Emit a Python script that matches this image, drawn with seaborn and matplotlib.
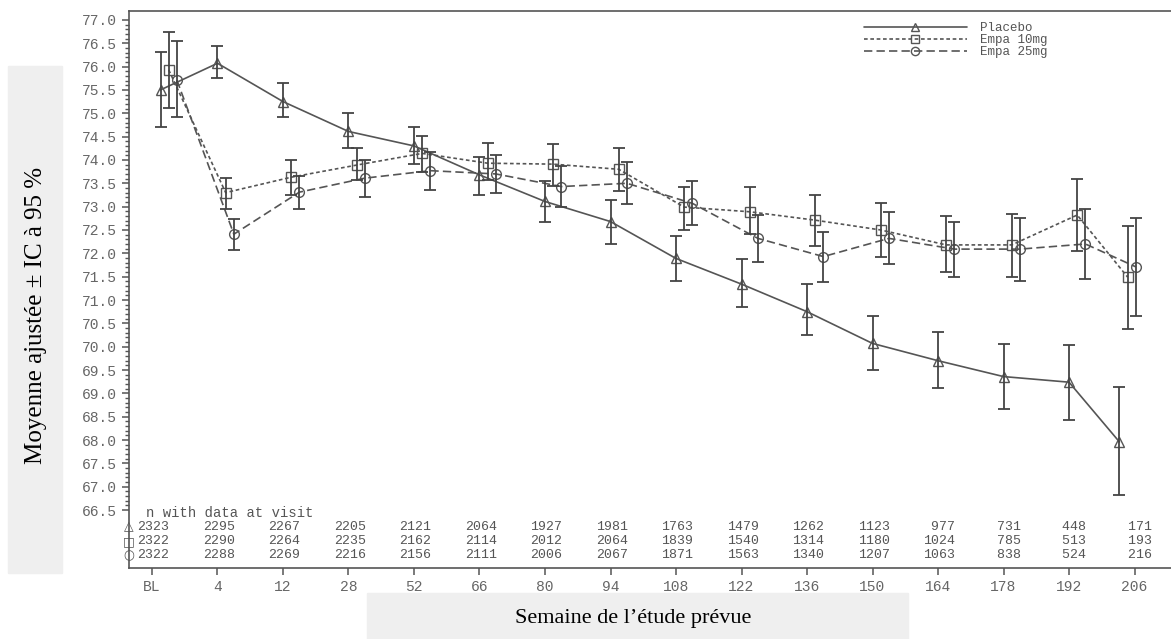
import numpy as np
import pandas as pd
import matplotlib
matplotlib.use("Agg")
import matplotlib.pyplot as plt
import seaborn as sns
from matplotlib.patches import Rectangle
from matplotlib.ticker import FixedLocator

sns.set_theme(style="ticks")
plt.rcParams["font.family"] = ["Liberation Mono", "DejaVu Sans"]

visits = ["BL", "4", "12", "28", "52", "66", "80", "94", "108", "122", "136",
          "150", "164", "178", "192", "206"]
groups = ["Placebo", "Empa 10mg", "Empa 25mg"]

placebo_mean = [75.50, 76.07, 75.25, 74.61, 74.30, 73.68, 73.11, 72.68, 71.89, 71.34,
                70.75, 70.07, 69.70, 69.36, 69.24, 67.96]
placebo_lo = [74.71, 75.76, 74.91, 74.25, 73.91, 73.24, 72.67, 72.21, 71.41, 70.84,
              70.24, 69.50, 69.11, 68.66, 68.44, 66.82]
placebo_hi = [76.31, 76.44, 75.64, 75.01, 74.70, 74.07, 73.55, 73.14, 72.38, 71.88,
              71.34, 70.66, 70.32, 70.06, 70.04, 69.14]

empa10_mean = [75.93, 73.30, 73.63, 73.89, 74.14, 73.93, 73.91, 73.80, 72.99, 72.89,
               72.71, 72.50, 72.18, 72.18, 72.82, 71.49]
empa10_lo = [75.12, 72.95, 73.25, 73.57, 73.75, 73.57, 73.45, 73.34, 72.50, 72.41,
             72.16, 71.93, 71.59, 71.49, 72.06, 70.38]
empa10_hi = [76.74, 73.62, 74.00, 74.26, 74.52, 74.36, 74.34, 74.25, 73.43, 73.41,
             73.24, 73.07, 72.80, 72.84, 73.59, 72.59]

empa25_mean = [75.71, 72.41, 73.31, 73.61, 73.77, 73.70, 73.43, 73.50, 73.07, 72.32,
               71.93, 72.32, 72.09, 72.09, 72.20, 71.71]
empa25_lo = [74.91, 72.07, 72.95, 73.21, 73.36, 73.29, 73.00, 73.05, 72.61, 71.81,
             71.39, 71.77, 71.49, 71.41, 71.44, 70.66]
empa25_hi = [76.54, 72.73, 73.66, 73.99, 74.16, 74.11, 73.88, 73.95, 73.55, 72.81,
             72.45, 72.88, 72.68, 72.76, 72.94, 72.75]

n_placebo = [2323, 2295, 2267, 2205, 2121, 2064, 1927, 1981, 1763, 1479, 1262, 1123,
             977, 731, 448, 171]
n_empa10 = [2322, 2290, 2264, 2235, 2162, 2114, 2012, 2064, 1839, 1540, 1314, 1180,
            1024, 785, 513, 193]
n_empa25 = [2322, 2288, 2269, 2216, 2156, 2111, 2006, 2067, 1871, 1563, 1340, 1207,
            1063, 838, 524, 216]

# dodge per group and small shift of the first/last visit (as in the SAS output)
dodge = [0.0, 0.125, 0.25]
shift = [0.13] + [0.0] * 14 + [-0.23]

means = [placebo_mean, empa10_mean, empa25_mean]
los = [placebo_lo, empa10_lo, empa25_lo]
his = [placebo_hi, empa10_hi, empa25_hi]

rows = []
for g, name in enumerate(groups):
    for i in range(len(visits)):
        rows.append({"group": name, "pos": i + dodge[g] + shift[i],
                     "mean": means[g][i], "lo": los[g][i], "hi": his[g][i]})
df = pd.DataFrame(rows)

gray = "#555555"
fig = plt.figure(figsize=(11.71, 6.39), dpi=100)
ax = fig.add_axes([129 / 1171, 71 / 639, 1042 / 1171, 557 / 639])

sns.lineplot(data=df, x="pos", y="mean", hue="group", style="group", sort=False,
             palette={g: gray for g in groups},
             dashes={"Placebo": "", "Empa 10mg": (2.2, 1.6), "Empa 25mg": (5, 2.5)},
             markers={"Placebo": "^", "Empa 10mg": "s", "Empa 25mg": "o"},
             markersize=7, mfc="none", mec=gray, mew=1.0, lw=1.2,
             errorbar=None, legend=False, ax=ax)

for name in groups:
    d = df[df["group"] == name]
    ax.errorbar(d["pos"], d["mean"], yerr=[d["mean"] - d["lo"], d["hi"] - d["mean"]],
                fmt="none", ecolor="#444444", elinewidth=1.3, capsize=4, capthick=1.3)

ax.legend(handles=ax.lines[:3], labels=groups, loc="upper left",
          bbox_to_anchor=(0.705, 0.98), frameon=False, fontsize=9,
          handlelength=8.3, handletextpad=1.0, labelspacing=0.0,
          borderpad=0, borderaxespad=0, labelcolor="#555555", markerscale=0.85)

ax.set_xlim(-0.351, 15.557)
ax.set_ylim(65.26, 77.19)
ax.set_xticks(range(len(visits)))
ax.set_xticklabels(visits)
ax.yaxis.set_major_locator(FixedLocator(np.arange(66.5, 77.01, 0.5)))
ax.yaxis.set_minor_locator(FixedLocator(np.arange(66.5, 77.01, 0.1)))
ax.yaxis.set_major_formatter(plt.FuncFormatter(lambda v, p: f"{v:.1f}"))
ax.tick_params(axis="both", which="major", direction="out", length=5, width=1.1,
               color=gray, labelcolor="#666666", labelsize=10.5)
ax.tick_params(axis="y", which="minor", direction="out", length=3, width=1.0, color=gray)
ax.set_xlabel("")
ax.set_ylabel("")
ax.spines["right"].set_visible(False)
for s in ["left", "bottom", "top"]:
    ax.spines[s].set_color(gray)
    ax.spines[s].set_linewidth(1.2)

# n with data at visit table
ax.text(0.016, 66.44, "n with data at visit", fontsize=10, color="#555555",
        transform=ax.get_yaxis_transform(), va="center", ha="left")
table_y = [66.14, 65.83, 65.53]
symbols = ["\u25b3", "\u25a1", "\u25cb"]
counts = [n_placebo, n_empa10, n_empa25]
for k in range(3):
    ax.text(0.0, table_y[k], symbols[k], fontsize=9, color="#555555",
            family="DejaVu Sans", transform=ax.get_yaxis_transform(),
            va="center", ha="center")
    for i in range(len(visits)):
        ax.text(i + 0.02, table_y[k], f"{counts[k][i]:>4}", fontsize=9.5,
                color="#555555", va="center", ha="center")

# gray boxes with the French axis titles
fig.patches.append(Rectangle((8 / 1171, 66 / 639), 54 / 1171, 507 / 639,
                             transform=fig.transFigure, color="#efefef", zorder=0))
fig.text(36 / 1171, 1 - 315 / 639, "Moyenne ajustée ± IC à 95 %", rotation=90,
         family="Liberation Serif", fontsize=18, color="black", ha="center", va="center")
fig.patches.append(Rectangle((367 / 1171, 0), 541 / 1171, 46 / 639,
                             transform=fig.transFigure, color="#efefef", zorder=0))
fig.text(633 / 1171, 20 / 639, "Semaine de l\u2019étude prévue",
         family="Liberation Serif", fontsize=16, color="black", ha="center", va="center")

fig.savefig("out.png", dpi=100)
